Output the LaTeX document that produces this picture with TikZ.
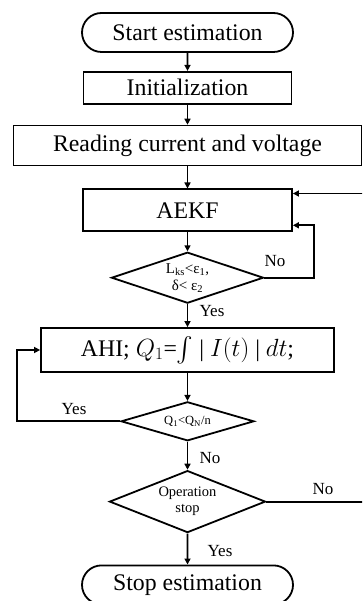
\documentclass[tikz,border=0pt]{standalone}
\usepackage{amsmath}
\usepackage{fontspec}
\setmainfont{Liberation Serif}
\usetikzlibrary{positioning}
\usetikzlibrary{shapes}
\usetikzlibrary{arrows.meta}

\begin{document}
\begin{tikzpicture}[x=1pt, y=-1pt, line width=1.8pt, >={Triangle[length=6pt, width=6pt]},
	term/.style = {draw, rounded rectangle, minimum width=211pt, minimum height=39pt, inner sep=0pt, font=\fontsize{23.8}{28}\selectfont},
	proc/.style = {draw, rectangle, inner sep=0pt, font=\fontsize{23.8}{28}\selectfont},
	dec/.style = {draw, diamond, inner sep=0pt, align=center},
	lab/.style = {inner sep=0pt, font=\fontsize{17}{19}\selectfont}]

\useasboundingbox (0,0) rectangle (362,601);
\clip (0,0) rectangle (362,601);

\node[term] (start) at (187.5,32.5) {Start estimation};
\node[proc, minimum width=208pt, minimum height=32pt, below=18pt of start] (init) {Initialization};
\node[proc, minimum width=348pt, minimum height=40pt, below=20pt of init] (read) {Reading current and voltage};
\node[proc, minimum width=209pt, minimum height=42pt, below=22pt of read] (aekf) {AEKF};
\node[dec, aspect=2.9, minimum width=152pt, minimum height=51pt, font=\fontsize{15}{17}\selectfont, below=19pt of aekf] (conv) {L\textsubscript{ks}<ε\textsubscript{1},\\δ< ε\textsubscript{2}};
\node[proc, minimum width=293pt, minimum height=44pt, below=23pt of conv] (ahi) {AHI; $Q_1$=$\int$ | $I(t)$ | $dt$;};
\node[dec, aspect=3.4, minimum width=133pt, minimum height=39pt, font=\fontsize{12.5}{14}\selectfont, below=28pt of ahi] (charge) {Q\textsubscript{1}<Q\textsubscript{N}/n};
\node[dec, aspect=2.5, minimum width=156pt, minimum height=62pt, font=\fontsize{14.5}{16}\selectfont, below=28pt of charge] (opstop) {Operation\\stop};
\node[term, below=31pt of opstop] (stop) {Stop estimation};

% labels
\node[lab] (no1) at (275,261) {No};
\node[lab] (yes1) at (212,311) {Yes};
\node[lab] (yes2) at (74,409) {Yes};
\node[lab] (no2) at (210,458) {No};
\node[lab] (no3) at (323,489) {No};
\node[lab] (yes3) at (220,551) {Yes};

% main column
\draw[->] (start) -- (init);
\draw[->] (init) -- (read);
\draw[->] (read) -- (aekf);
\draw[->] (aekf) -- (conv);
\draw[->] (conv) -- (ahi);
\draw[->] (ahi) -- (charge);
\draw[->] (charge) -- (opstop);
\draw[->] (opstop) -- (stop);

% loops
\draw[->] (conv.east) -| ([xshift=21pt, yshift=7pt]aekf.south east) -- ([yshift=7pt]aekf.south east);
\draw[->] (charge.west) -| ([xshift=-23pt]ahi.west) -- (ahi.west);
\draw[->] (opstop.east) -| ([xshift=80pt, yshift=-5pt]aekf.north east) -- ([yshift=-5pt]aekf.north east);

\end{tikzpicture}
\end{document}
